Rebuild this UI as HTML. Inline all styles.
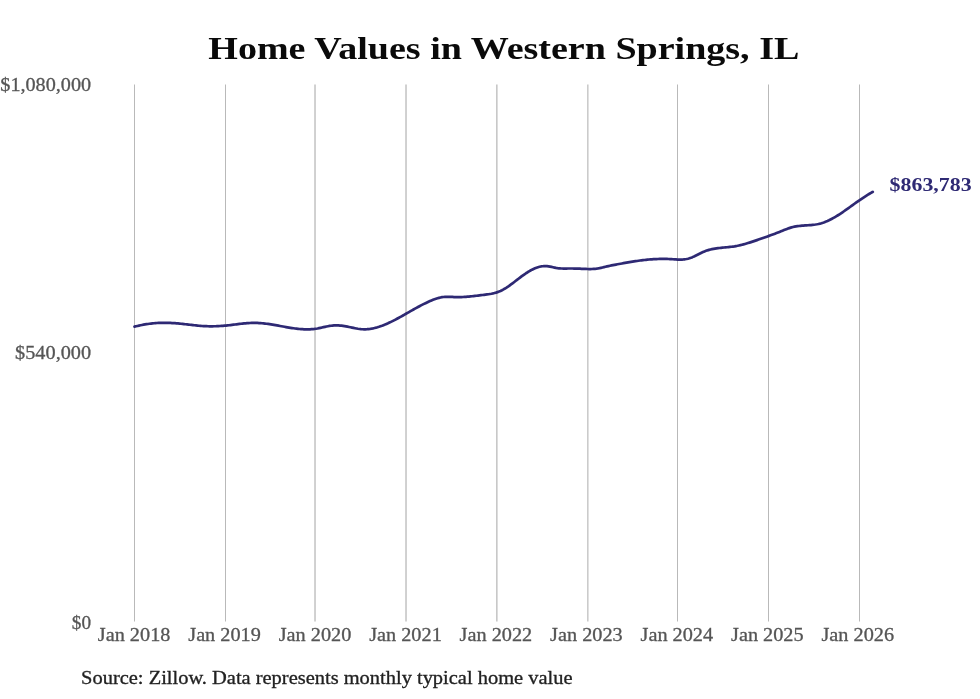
<!DOCTYPE html>
<html><head><meta charset="utf-8"><style>
html,body{margin:0;padding:0;background:#fff;}
body{width:980px;height:699px;overflow:hidden;}
svg{display:block;will-change:transform;}
text{font-family:"Liberation Serif",serif;}
</style></head><body>
<svg width="980" height="699" viewBox="0 0 980 699">
<rect width="980" height="699" fill="#fff"/>
<text x="208.3" y="59.2" font-size="31.4" font-weight="bold" fill="#0a0a0a" textLength="591" lengthAdjust="spacingAndGlyphs">Home Values in Western Springs, IL</text>
<g>
<rect x="134" y="84.5" width="1" height="537" fill="#b9b9b9"/>
<rect x="225" y="84.5" width="1" height="537" fill="#b9b9b9"/>
<rect x="314" y="84.5" width="1" height="537" fill="#d2d2d2"/>
<rect x="315" y="84.5" width="1" height="537" fill="#d0d0d0"/>
<rect x="405" y="84.5" width="1" height="537" fill="#d2d2d2"/>
<rect x="406" y="84.5" width="1" height="537" fill="#d0d0d0"/>
<rect x="496" y="84.5" width="1" height="537" fill="#c8c8c8"/>
<rect x="497" y="84.5" width="1" height="537" fill="#dcdcdc"/>
<rect x="587" y="84.5" width="1" height="537" fill="#cbcbcb"/>
<rect x="588" y="84.5" width="1" height="537" fill="#e0e0e0"/>
<rect x="677" y="84.5" width="1" height="537" fill="#b9b9b9"/>
<rect x="768" y="84.5" width="1" height="537" fill="#b9b9b9"/>
<rect x="859" y="84.5" width="1" height="537" fill="#b9b9b9"/>
</g>
<g font-size="19" fill="#555" stroke="#555" stroke-width="0.3">
<text x="91.1" y="90.5" text-anchor="end" textLength="90.8" lengthAdjust="spacingAndGlyphs">$1,080,000</text>
<text x="91.1" y="358.5" text-anchor="end" textLength="76" lengthAdjust="spacingAndGlyphs">$540,000</text>
<text x="91" y="628.6" text-anchor="end" textLength="19.2" lengthAdjust="spacingAndGlyphs">$0</text>
</g>
<g font-size="18.5" fill="#555" stroke="#555" stroke-width="0.3">
<text x="134.10" y="640.8" text-anchor="middle" textLength="72.6" lengthAdjust="spacingAndGlyphs">Jan 2018</text>
<text x="224.56" y="640.8" text-anchor="middle" textLength="72.6" lengthAdjust="spacingAndGlyphs">Jan 2019</text>
<text x="315.02" y="640.8" text-anchor="middle" textLength="72.6" lengthAdjust="spacingAndGlyphs">Jan 2020</text>
<text x="405.48" y="640.8" text-anchor="middle" textLength="72.6" lengthAdjust="spacingAndGlyphs">Jan 2021</text>
<text x="495.94" y="640.8" text-anchor="middle" textLength="72.6" lengthAdjust="spacingAndGlyphs">Jan 2022</text>
<text x="586.40" y="640.8" text-anchor="middle" textLength="72.6" lengthAdjust="spacingAndGlyphs">Jan 2023</text>
<text x="676.86" y="640.8" text-anchor="middle" textLength="72.6" lengthAdjust="spacingAndGlyphs">Jan 2024</text>
<text x="767.32" y="640.8" text-anchor="middle" textLength="72.6" lengthAdjust="spacingAndGlyphs">Jan 2025</text>
<text x="857.78" y="640.8" text-anchor="middle" textLength="72.6" lengthAdjust="spacingAndGlyphs">Jan 2026</text>
</g>
<path d="M134.50,326.67 L136.00,326.30 L137.50,325.94 L139.00,325.60 L140.50,325.28 L142.00,324.98 L143.50,324.70 L145.00,324.43 L146.50,324.19 L148.00,323.96 L149.50,323.75 L151.00,323.57 L152.50,323.40 L154.00,323.25 L155.50,323.12 L157.00,323.02 L158.50,322.93 L160.00,322.87 L161.50,322.82 L163.00,322.80 L164.50,322.80 L166.00,322.81 L167.50,322.84 L169.00,322.89 L170.50,322.95 L172.00,323.03 L173.50,323.12 L175.00,323.22 L176.50,323.34 L178.00,323.46 L179.50,323.60 L181.00,323.75 L182.50,323.90 L184.00,324.07 L185.50,324.24 L187.00,324.41 L188.50,324.59 L190.00,324.77 L191.50,324.94 L193.00,325.12 L194.50,325.28 L196.00,325.45 L197.50,325.60 L199.00,325.74 L200.50,325.87 L202.00,325.98 L203.50,326.08 L205.00,326.16 L206.50,326.22 L208.00,326.26 L209.50,326.29 L211.00,326.30 L212.50,326.29 L214.00,326.27 L215.50,326.23 L217.00,326.18 L218.50,326.11 L220.00,326.02 L221.50,325.93 L223.00,325.81 L224.50,325.69 L226.00,325.55 L227.50,325.40 L229.00,325.24 L230.50,325.07 L232.00,324.89 L233.50,324.70 L235.00,324.51 L236.50,324.32 L238.00,324.14 L239.50,323.95 L241.00,323.78 L242.50,323.61 L244.00,323.45 L245.50,323.31 L247.00,323.18 L248.50,323.07 L250.00,322.99 L251.50,322.93 L253.00,322.89 L254.50,322.88 L256.00,322.90 L257.50,322.95 L259.00,323.03 L260.50,323.13 L262.00,323.26 L263.50,323.40 L265.00,323.57 L266.50,323.75 L268.00,323.95 L269.50,324.17 L271.00,324.40 L272.50,324.64 L274.00,324.89 L275.50,325.15 L277.00,325.42 L278.50,325.69 L280.00,325.96 L281.50,326.24 L283.00,326.51 L284.50,326.79 L286.00,327.06 L287.50,327.32 L289.00,327.57 L290.50,327.82 L292.00,328.05 L293.50,328.27 L295.00,328.48 L296.50,328.67 L298.00,328.83 L299.50,328.98 L301.00,329.11 L302.50,329.21 L304.00,329.29 L305.50,329.33 L307.00,329.35 L308.50,329.33 L310.00,329.29 L311.50,329.20 L313.00,329.08 L314.50,328.92 L316.00,328.72 L317.50,328.47 L319.00,328.18 L320.50,327.87 L322.00,327.53 L323.50,327.18 L325.00,326.84 L326.50,326.51 L328.00,326.21 L329.50,325.95 L331.00,325.73 L332.50,325.57 L334.00,325.46 L335.50,325.40 L337.00,325.40 L338.50,325.44 L340.00,325.53 L341.50,325.67 L343.00,325.86 L344.50,326.10 L346.00,326.37 L347.50,326.66 L349.00,326.97 L350.50,327.30 L352.00,327.62 L353.50,327.94 L355.00,328.24 L356.50,328.52 L358.00,328.77 L359.50,328.98 L361.00,329.14 L362.50,329.25 L364.00,329.29 L365.50,329.28 L367.00,329.20 L368.50,329.07 L370.00,328.89 L371.50,328.66 L373.00,328.37 L374.50,328.04 L376.00,327.67 L377.50,327.25 L379.00,326.79 L380.50,326.28 L382.00,325.75 L383.50,325.17 L385.00,324.57 L386.50,323.93 L388.00,323.27 L389.50,322.57 L391.00,321.86 L392.50,321.12 L394.00,320.36 L395.50,319.58 L397.00,318.78 L398.50,317.97 L400.00,317.14 L401.50,316.31 L403.00,315.47 L404.50,314.62 L406.00,313.77 L407.50,312.91 L409.00,312.05 L410.50,311.20 L412.00,310.35 L413.50,309.50 L415.00,308.67 L416.50,307.84 L418.00,307.02 L419.50,306.22 L421.00,305.43 L422.50,304.66 L424.00,303.90 L425.50,303.17 L427.00,302.45 L428.50,301.76 L430.00,301.10 L431.50,300.46 L433.00,299.86 L434.50,299.28 L436.00,298.76 L437.50,298.28 L439.00,297.85 L440.50,297.49 L442.00,297.20 L443.50,296.99 L445.00,296.85 L446.50,296.79 L448.00,296.78 L449.50,296.81 L451.00,296.87 L452.50,296.95 L454.00,297.03 L455.50,297.10 L457.00,297.13 L458.50,297.15 L460.00,297.13 L461.50,297.09 L463.00,297.02 L464.50,296.94 L466.00,296.83 L467.50,296.71 L469.00,296.57 L470.50,296.42 L472.00,296.26 L473.50,296.09 L475.00,295.92 L476.50,295.73 L478.00,295.55 L479.50,295.37 L481.00,295.18 L482.50,295.00 L484.00,294.82 L485.50,294.64 L487.00,294.45 L488.50,294.23 L490.00,293.99 L491.50,293.72 L493.00,293.40 L494.50,293.04 L496.00,292.61 L497.50,292.12 L499.00,291.56 L500.50,290.92 L502.00,290.20 L503.50,289.39 L505.00,288.52 L506.50,287.58 L508.00,286.58 L509.50,285.53 L511.00,284.45 L512.50,283.34 L514.00,282.20 L515.50,281.05 L517.00,279.89 L518.50,278.73 L520.00,277.58 L521.50,276.45 L523.00,275.35 L524.50,274.28 L526.00,273.25 L527.50,272.27 L529.00,271.34 L530.50,270.48 L532.00,269.67 L533.50,268.94 L535.00,268.28 L536.50,267.69 L538.00,267.19 L539.50,266.78 L541.00,266.46 L542.50,266.24 L544.00,266.12 L545.50,266.11 L547.00,266.20 L548.50,266.39 L550.00,266.64 L551.50,266.93 L553.00,267.25 L554.50,267.57 L556.00,267.86 L557.50,268.11 L559.00,268.30 L560.50,268.42 L562.00,268.50 L563.50,268.54 L565.00,268.55 L566.50,268.54 L568.00,268.52 L569.50,268.51 L571.00,268.50 L572.50,268.51 L574.00,268.54 L575.50,268.57 L577.00,268.61 L578.50,268.66 L580.00,268.72 L581.50,268.78 L583.00,268.84 L584.50,268.91 L586.00,268.97 L587.50,269.01 L589.00,269.03 L590.50,269.03 L592.00,269.00 L593.50,268.92 L595.00,268.81 L596.50,268.63 L598.00,268.41 L599.50,268.14 L601.00,267.83 L602.50,267.50 L604.00,267.15 L605.50,266.79 L607.00,266.43 L608.50,266.07 L610.00,265.74 L611.50,265.42 L613.00,265.12 L614.50,264.83 L616.00,264.55 L617.50,264.27 L619.00,264.00 L620.50,263.74 L622.00,263.47 L623.50,263.20 L625.00,262.94 L626.50,262.68 L628.00,262.42 L629.50,262.16 L631.00,261.91 L632.50,261.66 L634.00,261.42 L635.50,261.19 L637.00,260.96 L638.50,260.74 L640.00,260.53 L641.50,260.33 L643.00,260.14 L644.50,259.97 L646.00,259.80 L647.50,259.65 L649.00,259.51 L650.50,259.39 L652.00,259.28 L653.50,259.18 L655.00,259.10 L656.50,259.03 L658.00,258.98 L659.50,258.94 L661.00,258.91 L662.50,258.90 L664.00,258.91 L665.50,258.93 L667.00,258.96 L668.50,259.02 L670.00,259.08 L671.50,259.16 L673.00,259.26 L674.50,259.36 L676.00,259.45 L677.50,259.53 L679.00,259.58 L680.50,259.60 L682.00,259.56 L683.50,259.46 L685.00,259.29 L686.50,259.04 L688.00,258.70 L689.50,258.25 L691.00,257.73 L692.50,257.13 L694.00,256.47 L695.50,255.76 L697.00,255.02 L698.50,254.26 L700.00,253.50 L701.50,252.75 L703.00,252.05 L704.50,251.41 L706.00,250.84 L707.50,250.33 L709.00,249.89 L710.50,249.49 L712.00,249.15 L713.50,248.85 L715.00,248.58 L716.50,248.35 L718.00,248.15 L719.50,247.97 L721.00,247.80 L722.50,247.65 L724.00,247.51 L725.50,247.37 L727.00,247.23 L728.50,247.08 L730.00,246.93 L731.50,246.75 L733.00,246.55 L734.50,246.33 L736.00,246.07 L737.50,245.79 L739.00,245.47 L740.50,245.13 L742.00,244.76 L743.50,244.37 L745.00,243.96 L746.50,243.53 L748.00,243.08 L749.50,242.62 L751.00,242.14 L752.50,241.64 L754.00,241.14 L755.50,240.63 L757.00,240.11 L758.50,239.59 L760.00,239.06 L761.50,238.53 L763.00,238.01 L764.50,237.48 L766.00,236.94 L767.50,236.41 L769.00,235.87 L770.50,235.32 L772.00,234.77 L773.50,234.21 L775.00,233.64 L776.50,233.07 L778.00,232.48 L779.50,231.88 L781.00,231.27 L782.50,230.66 L784.00,230.05 L785.50,229.46 L787.00,228.89 L788.50,228.35 L790.00,227.85 L791.50,227.41 L793.00,227.02 L794.50,226.69 L796.00,226.41 L797.50,226.18 L799.00,225.98 L800.50,225.81 L802.00,225.67 L803.50,225.56 L805.00,225.45 L806.50,225.36 L808.00,225.26 L809.50,225.16 L811.00,225.04 L812.50,224.90 L814.00,224.73 L815.50,224.53 L817.00,224.28 L818.50,223.97 L820.00,223.61 L821.50,223.19 L823.00,222.71 L824.50,222.18 L826.00,221.59 L827.50,220.95 L829.00,220.27 L830.50,219.53 L832.00,218.75 L833.50,217.93 L835.00,217.07 L836.50,216.17 L838.00,215.24 L839.50,214.28 L841.00,213.29 L842.50,212.28 L844.00,211.25 L845.50,210.20 L847.00,209.14 L848.50,208.07 L850.00,206.99 L851.50,205.91 L853.00,204.83 L854.50,203.75 L856.00,202.68 L857.50,201.61 L859.00,200.56 L860.50,199.53 L862.00,198.51 L863.50,197.51 L865.00,196.53 L866.50,195.58 L868.00,194.65 L869.50,193.75 L871.00,192.88 L872.50,192.04 L872.80,191.87" fill="none" stroke="#2e2974" stroke-width="2.7" stroke-linecap="round" stroke-linejoin="round"/>
<text x="889.6" y="191" font-size="19.4" font-weight="bold" fill="#2f2a74" textLength="82" lengthAdjust="spacingAndGlyphs">$863,783</text>
<text x="81.1" y="683.6" font-size="17.9" fill="#222" stroke="#222" stroke-width="0.3" textLength="491.4" lengthAdjust="spacingAndGlyphs">Source: Zillow. Data represents monthly typical home value</text>
</svg>
</body></html>
